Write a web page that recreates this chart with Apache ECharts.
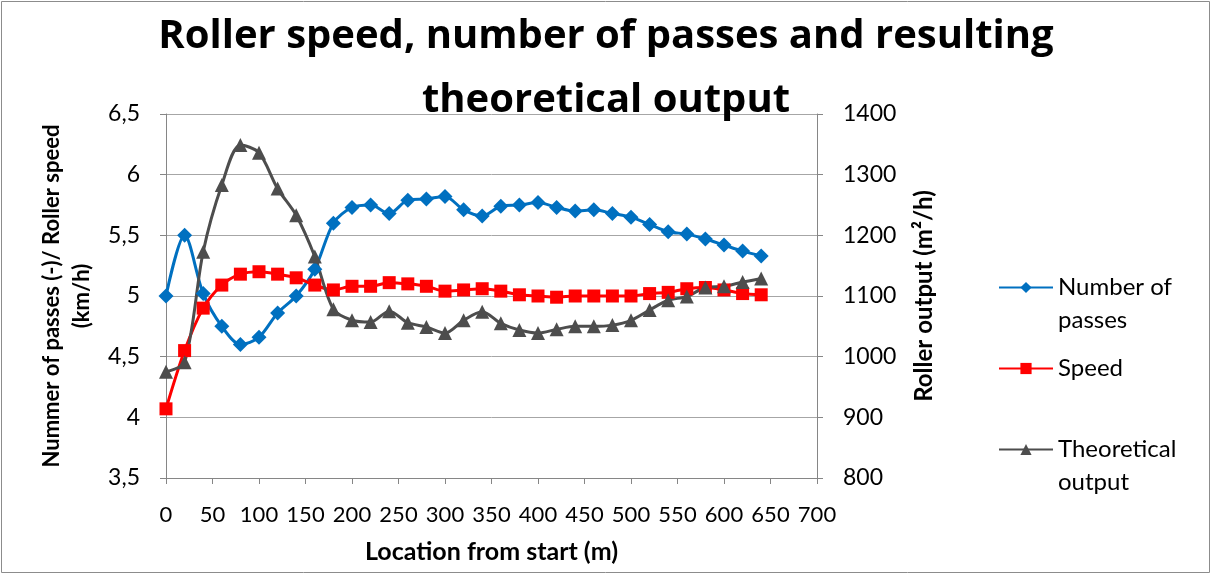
<!DOCTYPE html>
<html>
<head>
<meta charset="utf-8">
<script src="https://cdn.jsdelivr.net/npm/echarts@6/dist/echarts.min.js"></script>
<style>
  html, body { margin: 0; padding: 0; background: #fff; }
  #chart { width: 1212px; height: 575px; }
</style>
</head>
<body>
<div id="chart"></div>
<script>
  // location along the road (m)
  var locations = [0, 20, 40, 60, 80, 100, 120, 140, 160, 180, 200, 220, 240, 260, 280, 300, 320,
    340, 360, 380, 400, 420, 440, 460, 480, 500, 520, 540, 560, 580, 600, 620, 640]

  var passes = [5.0, 5.5, 5.02, 4.75, 4.6, 4.66, 4.86, 5.0, 5.22, 5.6, 5.73, 5.75, 5.68, 5.79, 5.8, 5.82, 5.71,
    5.66, 5.74, 5.75, 5.77, 5.73, 5.7, 5.71, 5.68, 5.65, 5.59, 5.53, 5.51, 5.47, 5.42, 5.37, 5.33]

  var speed = [4.07, 4.55, 4.9, 5.09, 5.18, 5.2, 5.18, 5.15, 5.09, 5.05, 5.08, 5.08, 5.11, 5.1, 5.08, 5.04, 5.05,
    5.06, 5.04, 5.01, 5.0, 4.99, 5.0, 5.0, 5.0, 5.0, 5.02, 5.03, 5.06, 5.07, 5.05, 5.02, 5.01]

  var output = [975, 991, 1173, 1283, 1349, 1336, 1277, 1233, 1165, 1078, 1060, 1057, 1075, 1056, 1049, 1039, 1060,
    1074, 1055, 1044, 1039, 1045, 1050, 1050, 1052, 1060, 1077, 1093, 1099, 1114, 1116, 1123, 1129]

  // blank first line keeps the icon level with the first text line
  var legendText = {
    'Number of passes': ' \nNumber of\npasses',
    'Speed': 'Speed',
    'Theoretical output': ' \nTheoretical\noutput'
  }

  function pairs(ys) {
    return locations.map(function (x, i) { return [x, ys[i]] })
  }

  var font = 'Lato, "Open Sans", sans-serif'
  var gridColor = '#a6a6a6'
  var axisColor = '#868686'

  var chart = echarts.init(document.getElementById('chart'))
  chart.setOption({
    animation: false,
    backgroundColor: '#fff',
    textStyle: { fontFamily: font },
    title: {
      text: 'Roller speed, number of passes and resulting\ntheoretical output',
      left: 'center',
      top: 0,
      textStyle: { fontSize: 40, fontWeight: 'bold', color: '#000', lineHeight: 64, fontFamily: '"Open Sans", sans-serif' }
    },
    graphic: [{
      type: 'rect',
      shape: { x: 1.5, y: 1.5, width: 1208, height: 571 },
      style: { fill: null, stroke: '#8c8c8c', lineWidth: 1 },
      silent: true
    }],
    legend: {
      orient: 'vertical',
      left: 998,
      top: 238,
      padding: 0,
      itemGap: 15,
      itemWidth: 54,
      itemHeight: 14,
      formatter: function (name) { return legendText[name] },
      textStyle: { fontSize: 24, color: '#000', lineHeight: 33, fontFamily: font },
      data: ['Number of passes', 'Speed', 'Theoretical output']
    },
    grid: { left: 166, right: 395, top: 114, bottom: 97 },
    xAxis: {
      type: 'value',
      min: 0,
      max: 700,
      interval: 50,
      name: 'Location from start (m)',
      nameLocation: 'middle',
      nameGap: 61,
      nameTextStyle: { fontSize: 25, fontWeight: 'bold', color: '#000', fontFamily: font },
      axisLine: { onZero: false, lineStyle: { color: axisColor, width: 1 } },
      axisTick: { show: true, length: 6, lineStyle: { color: axisColor } },
      axisLabel: { fontSize: 22, color: '#000', margin: 26, fontFamily: font },
      splitLine: { show: false }
    },
    yAxis: [{
      type: 'value',
      min: 3.5,
      max: 6.5,
      interval: 0.5,
      position: 'left',
      name: 'Nummer of passes (-)/ Roller speed\n(km/h)',
      nameLocation: 'middle',
      nameGap: 69,
      nameRotate: 90,
      nameTextStyle: { fontSize: 22, fontWeight: 'bold', color: '#000', lineHeight: 30, fontFamily: font },
      axisLine: { show: true, lineStyle: { color: axisColor, width: 1 } },
      axisTick: { show: true, length: 6, lineStyle: { color: axisColor } },
      axisLabel: {
        fontSize: 23, color: '#000', margin: 26, fontFamily: font,
        formatter: function (v) { return String(v).replace('.', ',') }
      },
      splitLine: { show: true, lineStyle: { color: gridColor, width: 1 } }
    }, {
      type: 'value',
      min: 800,
      max: 1400,
      interval: 100,
      position: 'right',
      name: 'Roller output (m²/h)',
      nameLocation: 'middle',
      nameGap: 95,
      nameRotate: 90,
      nameTextStyle: { fontSize: 24, fontWeight: 'bold', color: '#000', fontFamily: font },
      axisLine: { show: true, lineStyle: { color: axisColor, width: 1 } },
      axisTick: { show: true, length: 6, lineStyle: { color: axisColor } },
      axisLabel: {
        fontSize: 23, color: '#000', margin: 26, fontFamily: font,
        formatter: function (v) { return String(v) }
      },
      splitLine: { show: false }
    }],
    series: [{
      name: 'Number of passes',
      type: 'line',
      yAxisIndex: 0,
      smooth: 0.3,
      symbol: 'diamond',
      symbolSize: 15,
      data: pairs(passes),
      itemStyle: { color: '#0070c0' },
      lineStyle: { color: '#0070c0', width: 3 }
    }, {
      name: 'Speed',
      type: 'line',
      yAxisIndex: 0,
      smooth: 0.3,
      symbol: 'rect',
      symbolSize: 13,
      data: pairs(speed),
      itemStyle: { color: '#ff0000' },
      lineStyle: { color: '#ff0000', width: 3 }
    }, {
      name: 'Theoretical output',
      type: 'line',
      yAxisIndex: 1,
      smooth: 0.3,
      symbol: 'triangle',
      symbolSize: 14,
      data: pairs(output),
      itemStyle: { color: '#4d4d4d' },
      lineStyle: { color: '#4d4d4d', width: 3 }
    }]
  })
</script>
</body>
</html>
